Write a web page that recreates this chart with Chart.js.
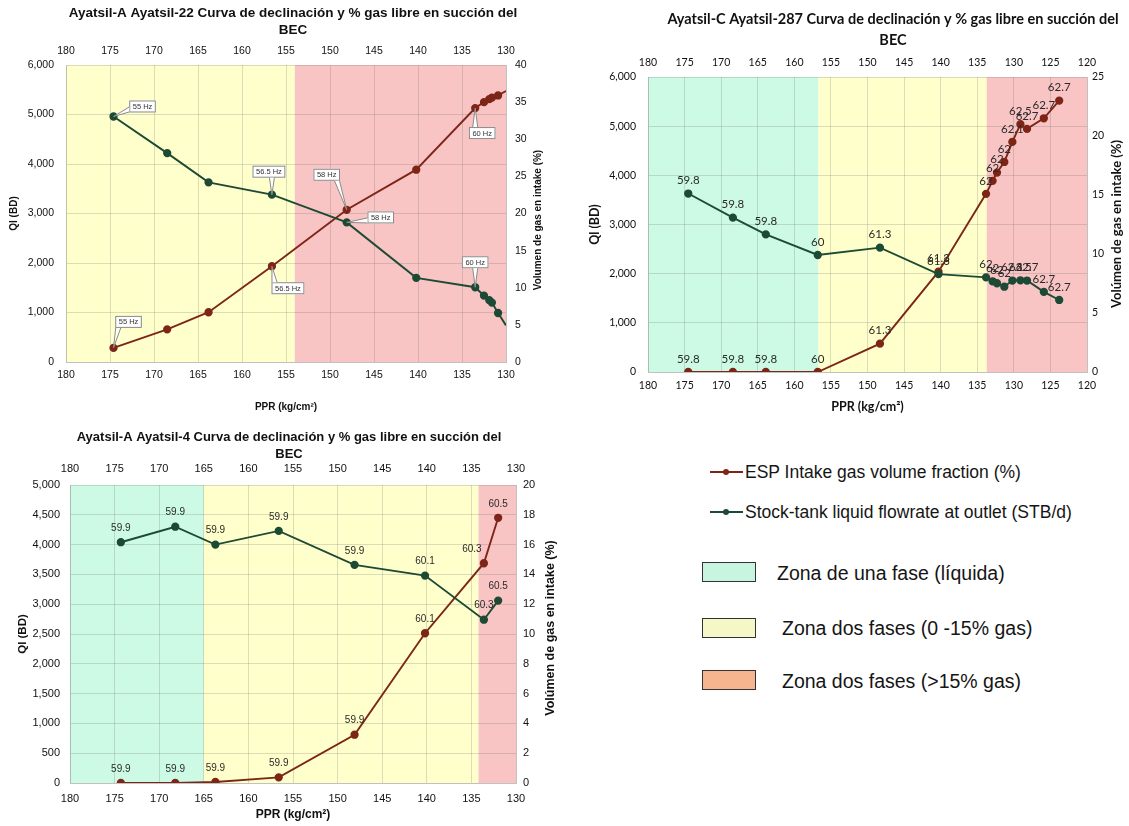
<!DOCTYPE html>
<html><head><meta charset="utf-8">
<script src="https://cdn.jsdelivr.net/npm/chart.js@4.4.1/dist/chart.umd.min.js"></script>
<style>
html,body{margin:0;padding:0;background:#fff;width:1129px;height:826px;overflow:hidden;position:relative;font-family:'Liberation Sans',Arial,sans-serif;}
canvas{position:absolute;}
.t{position:absolute;color:#151515;white-space:nowrap;}
.ln{position:absolute;height:2px;}
.dot{position:absolute;width:6px;height:6px;border-radius:50%;}
.box{position:absolute;width:52px;height:18px;border:1.6px solid #333;}
</style></head><body>
<canvas id="c1" width="575" height="420" style="left:0;top:0;width:575px;height:420px"></canvas>
<canvas id="c2" width="549" height="420" style="left:580px;top:0;width:549px;height:420px"></canvas>
<canvas id="c3" width="575" height="404" style="left:0;top:422px;width:575px;height:404px"></canvas>

<div class="ln" style="left:710px;top:471px;width:33px;background:#7d2617"></div>
<div class="dot" style="left:723px;top:469px;background:#7d2617"></div>
<div class="t" style="left:745px;top:461px;font-size:17.5px;line-height:22px">ESP Intake gas volume fraction (%)</div>
<div class="ln" style="left:710px;top:511px;width:33px;background:#1d4a35"></div>
<div class="dot" style="left:723px;top:509px;background:#1d4a35"></div>
<div class="t" style="left:745px;top:501px;font-size:17.5px;line-height:22px">Stock-tank liquid flowrate at outlet (STB/d)</div>
<div class="box" style="left:702px;top:562px;background:#c8f5e0"></div>
<div class="t" style="left:777px;top:561px;font-size:19.5px;line-height:24px">Zona de una fase (líquida)</div>
<div class="box" style="left:702px;top:618px;background:#f6f7c6"></div>
<div class="t" style="left:782px;top:616px;font-size:19.5px;line-height:24px">Zona dos fases (0 -15% gas)</div>
<div class="box" style="left:702px;top:670px;background:#f6b58f"></div>
<div class="t" style="left:782px;top:669px;font-size:19.5px;line-height:24px">Zona dos fases (&gt;15% gas)</div>

<script>
// ---------- DATA ----------
// Ayatsil-22
const ppr22 = [174.6, 168.5, 163.8, 156.6, 148.1, 140.2, 133.5, 132.5, 131.9, 131.6, 130.9, 130.0];
const ql22  = [4960, 4220, 3630, 3380, 2820, 1700, 1510, 1340, 1250, 1200, 990, 740];
const gas22 = [1.9, 4.4, 6.7, 12.9, 20.5, 25.9, 34.2, 35.0, 35.4, 35.6, 35.9, 36.5];
const hzQl22  = ['55 Hz', '', '', '56.5 Hz', '58 Hz', '', '60 Hz', '', '', '', '', ''];
const hzGas22 = ['55 Hz', '', '', '56.5 Hz', '58 Hz', '', '60 Hz', '', '', '', '', ''];
const zoneEdges22 = [180, 154, 130];
const zoneKinds22 = ['dos', 'gas'];

// Ayatsil-287
const ppr287 = [174.5, 168.4, 163.9, 156.8, 148.3, 140.3, 133.8, 132.9, 132.3, 131.3, 130.2, 129.1, 128.2, 125.9, 123.8];
const ql287  = [3630, 3140, 2800, 2380, 2530, 1990, 1925, 1845, 1805, 1735, 1860, 1865, 1860, 1630, 1465];
const gas287 = [0, 0, 0, 0, 2.4, 8.5, 15.1, 16.2, 16.9, 17.8, 19.5, 21.0, 20.6, 21.5, 23.0];
const hz287  = ['59.8', '59.8', '59.8', '60', '61.3', '61.3', '62', '62', '62', '62', '62.1', '62.5', '62.7', '62.7', '62.7'];
const zoneEdges287 = [180, 156.7, 133.7, 120];
const zoneKinds287 = ['una', 'dos', 'gas'];

// Ayatsil-4
const ppr4 = [174.3, 168.2, 163.7, 156.6, 148.1, 140.2, 133.6, 132.0];
const ql4  = [4040, 4300, 4000, 4230, 3660, 3480, 2740, 3060];
const gas4 = [0, 0, 0.07, 0.38, 3.24, 10.05, 14.75, 17.8];
const hz4  = ['59.9', '59.9', '59.9', '59.9', '59.9', '60.1', '60.3', '60.5'];
const zoneEdges4 = [180, 165, 134.2, 130];
const zoneKinds4 = ['una', 'dos', 'gas'];

// ---------- STYLE ----------
const GREEN = '#1d4a35', RED = '#7d2617';
const ZONE_COL = {una: '#cdfae4', dos: '#ffffcc', gas: '#f9c4c4'};
const GRID = 'rgba(110,110,110,0.24)';
const LS = "'Liberation Sans', Arial, sans-serif";
const LATO = "Lato, 'Liberation Sans', sans-serif";

const pts = (xs, ys) => xs.map((x, i) => ({x: x, y: ys[i]}));
const zonesOf = (edges, kinds) => kinds.map((k, i) => ({from: edges[i], to: edges[i + 1], color: ZONE_COL[k]}));

const decor = {
  id: 'decor',
  beforeDraw(chart, args, o) {
    const {ctx, chartArea: a} = chart; const x = chart.scales.x;
    ctx.save();
    (o.zones || []).forEach(z => {
      const x1 = x.getPixelForValue(z.from), x2 = x.getPixelForValue(z.to);
      ctx.fillStyle = z.color;
      ctx.fillRect(Math.min(x1, x2), a.top, Math.abs(x2 - x1), a.bottom - a.top);
    });
    ctx.restore();
  },
  afterDatasetsDraw(chart, args, o) {
    const ctx = chart.ctx;
    ctx.save();
    (o.labels || []).forEach(L => {
      const meta = chart.getDatasetMeta(L.ds);
      ctx.font = L.font; ctx.fillStyle = '#2a2a2a'; ctx.textAlign = 'center'; ctx.textBaseline = 'middle';
      meta.data.forEach((p, i) => {
        const t = L.texts[i]; if (!t) return;
        const dx = (L.dx && L.dx[i]) || 0;
        ctx.fillText(t, p.x + dx, p.y + L.dy);
      });
    });
    (o.callouts || []).forEach(C => {
      const meta = chart.getDatasetMeta(C.ds);
      C.texts.forEach((t, i) => {
        if (!t) return;
        const p = meta.data[i]; const off = C.off[i];
        ctx.font = C.font;
        const w = ctx.measureText(t).width + 7, h = 12;
        const cx = p.x + off[0], cy = p.y + off[1];
        const bx = cx - w / 2, by = cy - h / 2;
        const vx = p.x - cx, vy = p.y - cy;
        let b1, b2;
        if (Math.abs(vy) * w > Math.abs(vx) * h) {
          const ey = vy > 0 ? by + h : by;
          const ex = Math.max(bx + 3, Math.min(p.x, bx + w - 3));
          b1 = [ex - 2.5, ey]; b2 = [ex + 2.5, ey];
        } else {
          const ex = vx > 0 ? bx + w : bx;
          const ey = Math.max(by + 3, Math.min(p.y, by + h - 3));
          b1 = [ex, ey - 2.5]; b2 = [ex, ey + 2.5];
        }
        ctx.fillStyle = '#fff'; ctx.strokeStyle = '#8a8a8a'; ctx.lineWidth = 1;
        ctx.fillRect(bx, by, w, h); ctx.strokeRect(bx + 0.5, by + 0.5, w - 1, h - 1);
        ctx.beginPath(); ctx.moveTo(b1[0], b1[1]); ctx.lineTo(p.x, p.y); ctx.lineTo(b2[0], b2[1]); ctx.closePath(); ctx.fill();
        ctx.beginPath(); ctx.moveTo(b1[0], b1[1]); ctx.lineTo(p.x, p.y); ctx.lineTo(b2[0], b2[1]); ctx.stroke();
        ctx.fillStyle = '#333'; ctx.textAlign = 'center'; ctx.textBaseline = 'middle';
        ctx.fillText(t, cx, cy + 0.5);
      });
    });
    ctx.restore();
  },
  afterDraw(chart, args, o) {
    const ctx = chart.ctx;
    ctx.save();
    ctx.fillStyle = '#111'; ctx.textAlign = 'center'; ctx.textBaseline = 'middle';
    ctx.font = o.titleFont;
    o.title.forEach((t, i) => ctx.fillText(t, o.titleX, o.titleY[i]));
    ctx.font = o.rtFont;
    ctx.translate(o.rtX, o.rtY);
    ctx.rotate(-Math.PI / 2);
    ctx.fillText(o.rtText, 0, 0);
    ctx.restore();
  }
};

function build(id, c) {
  const tickFont = {family: c.family, size: c.tick};
  const dsStyle = (col) => ({
    borderColor: col, backgroundColor: col, pointBackgroundColor: col, pointBorderColor: col,
    borderWidth: 1.9, tension: 0, pointHoverRadius: 3,
    pointRadius: ctx => (c.hideLast && ctx.dataIndex === ctx.dataset.data.length - 1) ? 0 : 3.2
  });
  return new Chart(document.getElementById(id), {
    type: 'line',
    data: {datasets: [
      Object.assign({label: 'Stock-tank liquid flowrate at outlet (STB/d)', data: pts(c.x, c.ql), yAxisID: 'y'}, dsStyle(GREEN)),
      Object.assign({label: 'ESP Intake gas volume fraction (%)', data: pts(c.x, c.gas), yAxisID: 'y2'}, dsStyle(RED))
    ]},
    options: {
      responsive: false, animation: false, devicePixelRatio: 1,
      layout: {padding: {top: c.padTop, left: 0, right: 0, bottom: 0}},
      plugins: {legend: {display: false}, tooltip: {enabled: false}, decor: c.decor},
      scales: {
        x: {type: 'linear', position: 'bottom', min: c.xmin, max: 180, reverse: true,
            ticks: {stepSize: 5, color: '#111', font: tickFont, padding: c.xPad, maxRotation: 0, autoSkip: false},
            grid: {color: GRID, drawTicks: false}, border: {color: GRID},
            title: {display: true, text: 'PPR (kg/cm²)', color: '#111', font: {family: c.family, size: c.xTitleSize, weight: 'bold'}, padding: {top: 0, bottom: c.xTitlePad}},
            afterFit: s => { s.height = c.xH; }},
        x2: {type: 'linear', axis: 'x', position: 'top', min: c.xmin, max: 180, reverse: true,
            ticks: {stepSize: 5, color: '#111', font: tickFont, padding: c.x2Pad, maxRotation: 0, autoSkip: false},
            grid: {display: false, drawTicks: false}, border: {display: false},
            afterFit: s => { s.height = c.x2H; }},
        y: {position: 'left', min: 0, max: c.qlMax,
            ticks: {stepSize: c.qlStep, color: '#111', font: tickFont, padding: c.yPad, callback: v => v.toLocaleString('en-US')},
            grid: {color: GRID, drawTicks: false}, border: {color: GRID},
            title: {display: true, text: 'Ql (BD)', color: '#111', font: {family: c.family, size: c.yTitleSize, weight: 'bold'}, padding: {top: c.yTitlePad, bottom: 0}},
            afterFit: s => { s.width = c.yW; }},
        y2: {position: 'right', min: 0, max: c.gasMax,
            ticks: {stepSize: c.gasStep, color: '#111', font: tickFont, padding: c.y2Pad},
            grid: {drawOnChartArea: false, drawTicks: false}, border: {color: GRID},
            afterFit: s => { s.width = c.y2W; }}
      }
    },
    plugins: [decor]
  });
}

build('c1', {
  x: ppr22, ql: ql22, gas: gas22, xmin: 130, qlMax: 6000, qlStep: 1000, gasMax: 40, gasStep: 5,
  family: LS, tick: 10.5, hideLast: true,
  padTop: 40, x2H: 25, xH: 58, yW: 66, y2W: 69,
  xPad: 7, x2Pad: 8, yPad: 12, y2Pad: 9,
  xTitleSize: 10, xTitlePad: 7, yTitleSize: 10, yTitlePad: 8,
  decor: {
    zones: zonesOf(zoneEdges22, zoneKinds22),
    title: ['Ayatsil-A Ayatsil-22 Curva de declinación y % gas libre en succión del', 'BEC'],
    titleFont: "bold 13.5px " + LS, titleX: 293, titleY: [13, 30],
    rtText: 'Volumen de gas en intake (%)', rtFont: "bold 10px " + LS, rtX: 538, rtY: 220,
    callouts: [
      {ds: 0, texts: hzQl22, font: "7.5px " + LS, off: {0: [29, -10], 3: [-3, -23], 4: [34, -5], 6: [0, -25]}},
      {ds: 1, texts: hzGas22, font: "7.5px " + LS, off: {0: [15, -26], 3: [16, 22], 4: [-20, -35], 6: [7, 25]}}
    ]
  }
});

build('c2', {
  x: ppr287, ql: ql287, gas: gas287, xmin: 120, qlMax: 6000, qlStep: 1000, gasMax: 25, gasStep: 5,
  family: LATO, tick: 10.5, hideLast: false,
  padTop: 50, x2H: 27, xH: 48, yW: 68, y2W: 42,
  xPad: 7, x2Pad: 8, yPad: 12, y2Pad: 5,
  xTitleSize: 12.5, xTitlePad: 6, yTitleSize: 12.5, yTitlePad: 7,
  decor: {
    zones: zonesOf(zoneEdges287, zoneKinds287),
    title: ['Ayatsil-C Ayatsil-287 Curva de declinación y % gas libre en succión del', 'BEC'],
    titleFont: "bold 14.5px " + LATO, titleX: 313, titleY: [19, 40],
    rtText: 'Volúmen de gas en intake (%)', rtFont: "bold 13px " + LATO, rtX: 537, rtY: 224,
    labels: [
      {ds: 0, texts: hz287, font: "11.5px " + LATO, dy: -13},
      {ds: 1, texts: hz287, font: "11.5px " + LATO, dy: -13}
    ]
  }
});

build('c3', {
  x: ppr4, ql: ql4, gas: gas4, xmin: 130, qlMax: 5000, qlStep: 500, gasMax: 20, gasStep: 2,
  family: LS, tick: 11, hideLast: false,
  padTop: 40, x2H: 23, xH: 43, yW: 70, y2W: 59,
  xPad: 9, x2Pad: 9, yPad: 10, y2Pad: 7,
  xTitleSize: 12, xTitlePad: 4, yTitleSize: 11.5, yTitlePad: 16,
  decor: {
    zones: zonesOf(zoneEdges4, zoneKinds4),
    title: ['Ayatsil-A Ayatsil-4 Curva de declinación y % gas libre en succión del', 'BEC'],
    titleFont: "bold 13px " + LS, titleX: 289, titleY: [15, 32],
    rtText: 'Volúmen de gas en intake (%)', rtFont: "bold 12.5px " + LS, rtX: 551, rtY: 206,
    labels: [
      {ds: 0, texts: hz4, font: "10px " + LS, dy: -14},
      {ds: 1, texts: hz4, font: "10px " + LS, dy: -14, dx: {6: -12}}
    ]
  }
});
</script>
</body></html>
